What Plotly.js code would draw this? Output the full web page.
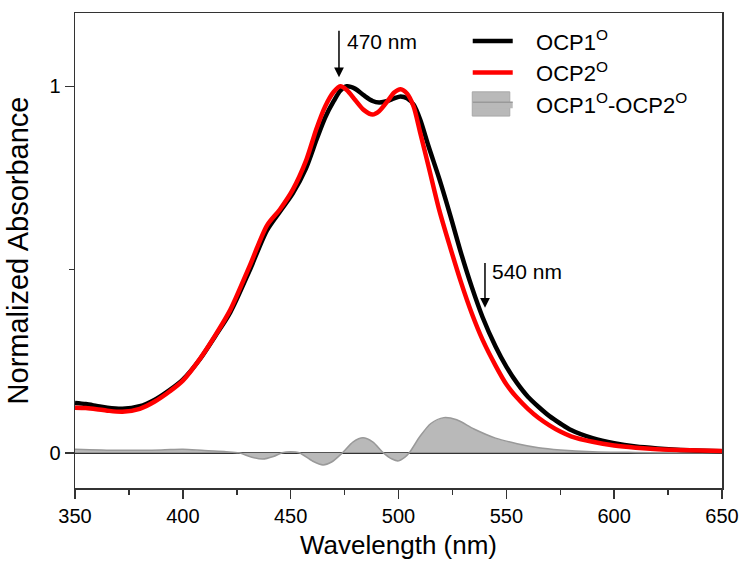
<!DOCTYPE html>
<html>
<head>
<meta charset="utf-8">
<script src="https://cdn.plot.ly/plotly-3.0.1.min.js"></script>
<style>html,body{margin:0;padding:0;background:#fff;}#chart{width:742px;height:567px;}</style>
</head>
<body>
<div id="chart"></div>
<script>
const wavelength = [350,355,360,365,372,380,387,394,400,408,415,422,431,439,445,451,457,462,466,470,473,476,480,484,488,491,495,498,501,504,507,510,514,519,524,529,534,539,545,550,555,560,565,570,575,580,590,600,610,620,635,650];
const ocp1 = [0.136,0.133,0.128,0.123,0.12,0.127,0.145,0.172,0.2,0.256,0.318,0.383,0.498,0.607,0.658,0.708,0.775,0.855,0.915,0.96,0.988,1.0,0.993,0.975,0.96,0.956,0.96,0.967,0.972,0.967,0.95,0.91,0.835,0.746,0.648,0.545,0.452,0.37,0.29,0.235,0.19,0.153,0.125,0.1,0.08,0.062,0.04,0.026,0.017,0.012,0.007,0.004];
const ocp2 = [0.123,0.122,0.119,0.115,0.112,0.12,0.14,0.168,0.197,0.257,0.32,0.39,0.51,0.62,0.664,0.718,0.795,0.885,0.945,0.985,1.0,0.99,0.962,0.935,0.923,0.932,0.96,0.983,0.992,0.98,0.945,0.875,0.78,0.66,0.56,0.465,0.38,0.308,0.238,0.187,0.15,0.12,0.095,0.075,0.058,0.045,0.03,0.02,0.014,0.01,0.007,0.005];
const diffWavelength = [350,370,390,400,410,420,426,432,437,442,446,450,454,460,465,469,474,479,483.5,488,493,497,500,503,505,510,515,521,527,535,545,555,565,575,590,610,630,650];
const diffValues = [0.01,0.007,0.008,0.01,0.006,0.003,0,-0.012,-0.017,-0.01,0,0.003,0,-0.022,-0.033,-0.025,0,0.03,0.041,0.03,0,-0.017,-0.022,-0.012,0,0.045,0.08,0.096,0.09,0.065,0.04,0.025,0.014,0.008,0.003,0.001,0,0];
const seriesNames = ['OCP1<sup>O</sup>','OCP2<sup>O</sup>','OCP1<sup>O</sup>-OCP2<sup>O</sup>'];
const markers = [{label:'470 nm', x:472.4, tipY:1.025, tailY:1.156, textX:475.2, textY:1.123},
                 {label:'540 nm', x:540.1, tipY:0.396, tailY:0.522, textX:542.6, textY:0.495}];

const font = 'Arial, "Liberation Sans", sans-serif';
const pad = '\u00a0\u00a0\u00a0';
const traces = [
  {x: wavelength, y: ocp1, name: pad + seriesNames[0], type:'scatter', mode:'lines',
   line:{color:'#000000', width:4.5, shape:'spline', smoothing:0.8}},
  {x: wavelength, y: ocp2, name: pad + seriesNames[1], type:'scatter', mode:'lines',
   line:{color:'#ff0000', width:4.5, shape:'spline', smoothing:0.8}},
  {x: diffWavelength, y: diffValues, name: pad + seriesNames[2], type:'scatter', mode:'lines',
   fill:'tozeroy', fillcolor:'#b9b9b9', line:{color:'#999999', width:1.5, shape:'spline', smoothing:0.8}}
];
const data = [traces[2], traces[0], traces[1]];
data[0].legendrank = 3; data[1].legendrank = 1; data[2].legendrank = 2;

const annotations = [];
markers.forEach(m => {
  annotations.push({x:m.x, y:m.tipY, ax:m.x, ay:m.tailY, axref:'x', ayref:'y', xref:'x', yref:'y',
    text:'', showarrow:true, arrowhead:2, arrowsize:1.3, arrowwidth:1.5, arrowcolor:'#000'});
  annotations.push({x:m.textX, y:m.textY, xref:'x', yref:'y', text:m.label, showarrow:false,
    xanchor:'left', yanchor:'middle', font:{family:font, size:21, color:'#000'}});
});

const layout = {
  width:742, height:567,
  margin:{l:75, r:20, t:13, b:79},
  paper_bgcolor:'#fff', plot_bgcolor:'#fff',
  font:{family:font, color:'#000'},
  showlegend:true,
  legend:{x:0.607, y:0.985, xanchor:'left', yanchor:'top', bgcolor:'rgba(0,0,0,0)', itemwidth:40,
    font:{family:font, size:22, color:'#000'}, traceorder:'normal'},
  shapes:[{type:'rect', xref:'paper', yref:'paper', x0:0.614, x1:0.672, y0:0.783, y1:0.834,
    fillcolor:'#b9b9b9', line:{color:'#a8a8a8', width:1}, layer:'above'}],
  xaxis:{range:[350,650], tickvals:[350,400,450,500,550,600,650], ticks:'outside', ticklen:9, tickwidth:1.5,
    tickcolor:'#333', showline:true, linecolor:'#333', linewidth:1.5, mirror:true, showgrid:false, zeroline:false,
    tickfont:{family:font, size:20, color:'#000'},
    minor:{dtick:25, tick0:350, ticks:'outside', ticklen:5, tickwidth:1.5, tickcolor:'#333', showgrid:false},
    title:{text:'Wavelength (nm)', font:{family:font, size:26, color:'#000'}, standoff:10}},
  yaxis:{range:[-0.096,1.2], tickvals:[0,1], ticktext:['0','1'], ticks:'outside', ticklen:9, tickwidth:1.5,
    tickcolor:'#333', showline:true, linecolor:'#333', linewidth:1.5, mirror:true, showgrid:false,
    zeroline:true, zerolinecolor:'#333', zerolinewidth:2, layer:'above traces',
    tickfont:{family:font, size:20, color:'#000'},
    minor:{tickvals:[0.5], ticks:'outside', ticklen:5, tickwidth:1.5, tickcolor:'#333', showgrid:false},
    title:{text:'Normalized Absorbance', font:{family:font, size:29, color:'#000'}, standoff:12}},
  annotations: annotations
};
Plotly.newPlot('chart', data, layout, {displayModeBar:false, staticPlot:true});
</script>
</body>
</html>
